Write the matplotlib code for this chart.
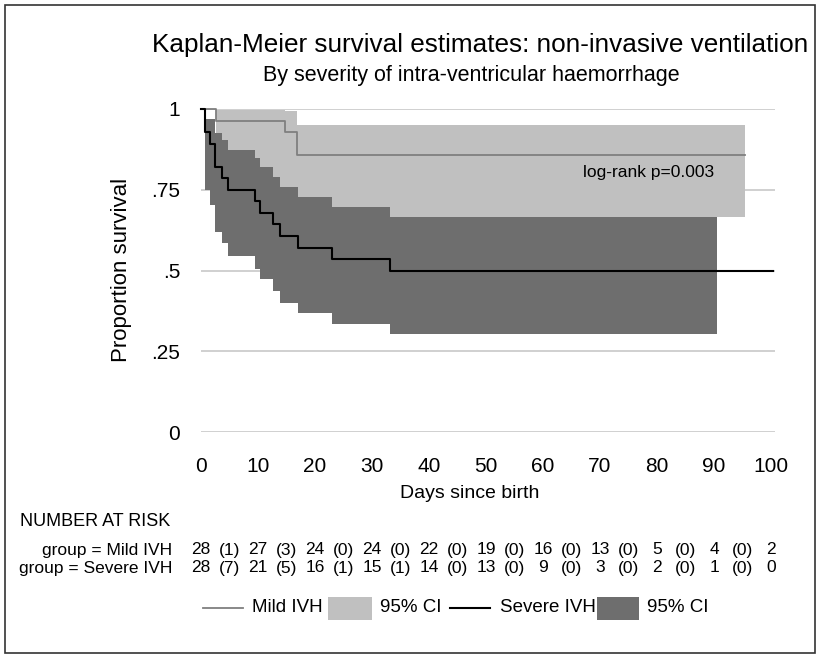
import matplotlib
matplotlib.use("Agg")
import matplotlib.pyplot as plt
from matplotlib.lines import Line2D
from matplotlib.patches import Rectangle

plt.rcParams['font.family'] = ['Liberation Sans', 'DejaVu Sans']

# Kaplan-Meier estimates
mild_t = [0, 2.6, 14.7, 16.8]
mild_s = [1.0, 0.964, 0.929, 0.857]
mild_end = 95.4

mild_ci_t = [2.6, 14.7, 16.8]
mild_ci_hi = [0.997, 0.993, 0.950]
mild_ci_lo = [0.75, 0.72, 0.667]
mild_ci_end = 95.4

sev_t = [0, 0.7, 1.6, 2.5, 3.6, 4.8, 9.5, 10.4, 12.7, 13.9, 17.1, 22.9, 33.2]
sev_s = [1.0, 0.929, 0.893, 0.821, 0.786, 0.75, 0.714, 0.679, 0.643, 0.607, 0.571, 0.536, 0.5]
sev_end = 100.4

sev_ci_t = [0.7, 1.5, 2.5, 3.6, 4.8, 9.5, 10.4, 12.7, 13.9, 17.1, 22.9, 33.2]
sev_ci_hi = [0.968, 0.968, 0.925, 0.904, 0.873, 0.847, 0.821, 0.79, 0.759, 0.728, 0.698, 0.667]
sev_ci_lo = [0.749, 0.703, 0.620, 0.584, 0.545, 0.504, 0.473, 0.435, 0.398, 0.367, 0.334, 0.303]
sev_ci_end = 90.6

# number at risk table
risk_days = [0, 10, 20, 30, 40, 50, 60, 70, 80, 90, 100]
mild_risk = [28, 27, 24, 24, 22, 19, 16, 13, 5, 4, 2]
mild_events = [1, 3, 0, 0, 0, 0, 0, 0, 0, 0]
sev_risk = [28, 21, 16, 15, 14, 13, 9, 3, 2, 1, 0]
sev_events = [7, 5, 1, 1, 0, 0, 0, 0, 0, 0]

x_ticks = [0, 10, 20, 30, 40, 50, 60, 70, 80, 90, 100]
y_ticks = [0, 0.25, 0.5, 0.75, 1]
y_ticklabels = ['0', '.25', '.5', '.75', '1']

LIGHT = '#c0c0c0'
DARK = '#6e6e6e'
MILD_LINE = '#7f7f7f'

W, H = 819, 659


def fx(x):
    return x / W


def fy(y):
    return 1 - y / H


fig = plt.figure(figsize=(W / 100, H / 100), dpi=100)
ax = fig.add_axes([fx(201), fy(432), (775 - 201) / W, (432 - 109) / H])

# confidence bands
ax.fill_between(mild_ci_t + [mild_ci_end], mild_ci_lo + [mild_ci_lo[-1]],
                mild_ci_hi + [mild_ci_hi[-1]], step='post', color=LIGHT,
                lw=0, zorder=2, clip_on=False)
ax.fill_between(sev_ci_t + [sev_ci_end], sev_ci_lo + [sev_ci_lo[-1]],
                sev_ci_hi + [sev_ci_hi[-1]], step='post', color=DARK,
                lw=0, zorder=3, clip_on=False)

# survival curves
ax.step(mild_t + [mild_end], mild_s + [mild_s[-1]], where='post',
        color=MILD_LINE, lw=1.3, zorder=4, clip_on=False)
ax.step(sev_t + [sev_end], sev_s + [sev_s[-1]], where='post',
        color='black', lw=1.5, zorder=5, clip_on=False)

ax.text(78.6, 0.802, 'log-rank p=0.003', fontsize=12.5, ha='center',
        va='center', zorder=6)

ax.set_xlim(0, 100.7)
ax.set_ylim(0, 1)
ax.set_xticks(x_ticks)
ax.set_yticks(y_ticks)
ax.set_yticklabels(y_ticklabels)
ax.tick_params(length=0, labelsize=15)
ax.tick_params(axis='y', pad=15)
ax.tick_params(axis='x', pad=18)
ax.grid(axis='y', color='#d0d0d0', lw=1.4, zorder=1)
ax.set_axisbelow(True)
for sp in ax.spines.values():
    sp.set_visible(False)
ax.set_facecolor('none')

# titles and axis labels
fig.text(fx(480), fy(45), 'Kaplan-Meier survival estimates: non-invasive ventilation',
         ha='center', va='center', fontsize=18.8)
fig.text(fx(471), fy(76), 'By severity of intra-ventricular haemorrhage',
         ha='center', va='center', fontsize=15.5)
fig.text(fx(122), fy(270), 'Proportion survival', rotation=90,
         ha='center', va='center', fontsize=16)
fig.text(fx(470), fy(494), 'Days since birth', ha='center', va='center', fontsize=14)

# number at risk
fig.text(fx(20), fy(522), 'NUMBER AT RISK', ha='left', va='center', fontsize=13)
rows = [('group = Mild IVH', mild_risk, mild_events, 550),
        ('group = Severe IVH', sev_risk, sev_events, 568)]
for label, risk, events, ypx in rows:
    fig.text(fx(172), fy(ypx), label, ha='right', va='center', fontsize=12.5)
    for d, n in zip(risk_days, risk):
        x_pix = ax.transData.transform((d, 0))[0]
        fig.text(x_pix / W, fy(ypx), str(n), ha='center', va='center', fontsize=12.5)
    for i, e in enumerate(events):
        mid = (risk_days[i] + risk_days[i + 1]) / 2
        x_pix = ax.transData.transform((mid, 0))[0]
        fig.text(x_pix / W, fy(ypx), '(%d)' % e, ha='center', va='center', fontsize=12.5)

# legend drawn by hand
ly = fy(608)
fig.add_artist(Line2D([fx(203), fx(243)], [ly, ly], color=MILD_LINE, lw=1.3))
fig.text(fx(252), ly, 'Mild IVH', ha='left', va='center', fontsize=13.5)
fig.add_artist(Rectangle((fx(328), fy(620)), (372 - 328) / W, (620 - 597) / H,
                         color=LIGHT, lw=0))
fig.text(fx(380), ly, '95% CI', ha='left', va='center', fontsize=13.5)
fig.add_artist(Line2D([fx(450), fx(490)], [ly, ly], color='black', lw=1.5))
fig.text(fx(500), ly, 'Severe IVH', ha='left', va='center', fontsize=13.5)
fig.add_artist(Rectangle((fx(597), fy(620)), (639 - 597) / W, (620 - 597) / H,
                         color=DARK, lw=0))
fig.text(fx(647), ly, '95% CI', ha='left', va='center', fontsize=13.5)

# outer frame
fig.add_artist(Rectangle((fx(5), fy(653)), (815 - 5) / W, (653 - 5) / H,
                         fill=False, edgecolor='#333333', lw=1.2))

fig.savefig('out.png', dpi=100)
